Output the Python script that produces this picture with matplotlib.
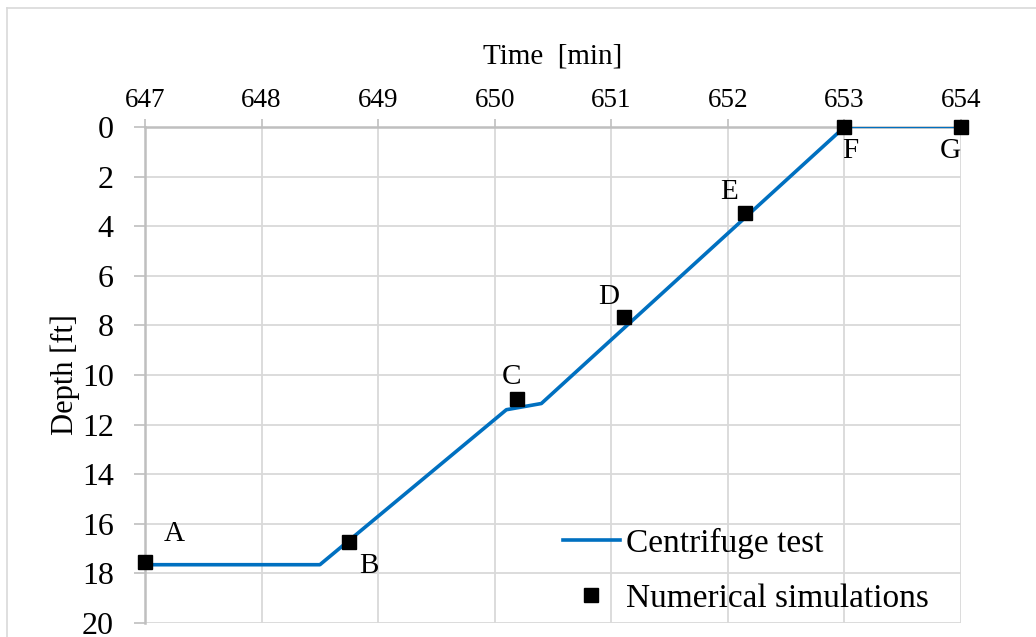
import matplotlib
matplotlib.use("Agg")
import matplotlib.pyplot as plt
from matplotlib.lines import Line2D

plt.rcParams['font.family'] = ['Liberation Serif', 'DejaVu Serif']

# Centrifuge test (line)
test_time = [647.0, 648.5, 650.1, 650.4, 653.0, 654.0]
test_depth = [17.65, 17.65, 11.4, 11.15, 0.0, 0.0]

# Numerical simulations (markers)
sim_time = [647.0, 648.75, 650.19, 651.11, 652.15, 653.0, 654.0]
sim_depth = [17.55, 16.75, 10.97, 7.68, 3.45, 0.0, 0.0]
sim_labels = ['A', 'B', 'C', 'D', 'E', 'F', 'G']

x_ticks = [647, 648, 649, 650, 651, 652, 653, 654]
y_ticks = [0, 2, 4, 6, 8, 10, 12, 14, 16, 18, 20]

label_offsets = [(21, 20), (14, -17), (-4, 16), (-11, 15), (-12, 15), (4, -17), (-8, -17)]

fig = plt.figure(figsize=(10.36, 6.37), dpi=100)
ax = fig.add_axes([0.14, 0.022, 0.7876, 0.7786])

blue = '#0070C0'
ax.plot(test_time[:5], test_depth[:5], color=blue, lw=2.6, solid_capstyle='butt', zorder=3)
ax.plot(test_time[4:], test_depth[4:], color=blue, lw=1.6, zorder=3)
ax.plot(sim_time, sim_depth, ls='none', marker='s', ms=10, color='black', zorder=4, clip_on=False)

for t, d, lab, off in zip(sim_time, sim_depth, sim_labels, label_offsets):
    ax.annotate(lab, (t, d), xytext=off, textcoords='offset points',
                ha='center', va='center', fontsize=21, zorder=5)

ax.set_xlim(647, 654)
ax.set_ylim(20, 0)
ax.xaxis.tick_top()
ax.xaxis.set_label_position('top')
ax.set_xticks(x_ticks)
ax.set_yticks(y_ticks)
ax.tick_params(axis='x', labelsize=19.5, length=6, color='#bfbfbf', width=1.2, pad=4)
ax.tick_params(axis='y', labelsize=23, length=8, color='#bfbfbf', width=1.2, pad=14.5)
ax.set_xlabel('Time  [min]', fontsize=21, labelpad=18)
ax.set_ylabel('Depth [ft]', fontsize=22, labelpad=1.5)

ax.grid(True, color='#d9d9d9', lw=1.3)
ax.set_axisbelow(True)
for s in ['right', 'bottom']:
    ax.spines[s].set_visible(False)
for s in ['top', 'left']:
    ax.spines[s].set_color('#bfbfbf')
    ax.spines[s].set_linewidth(1.8)

handles = [Line2D([], [], color=blue, lw=2.6),
           Line2D([], [], ls='none', marker='s', ms=10, color='black')]
leg = fig.legend(handles, ['Centrifuge test', 'Numerical simulations'],
                 loc='upper left', bbox_to_anchor=(0.5435, 0.171), frameon=False,
                 fontsize=24, handlelength=1.7, handletextpad=0.2, labelspacing=0.72,
                 borderaxespad=0, borderpad=0)

# figure border
fig.add_artist(Line2D([0.007, 1.0], [0.988, 0.988], color='#d9d9d9', lw=1.2, transform=fig.transFigure))
fig.add_artist(Line2D([0.007, 0.007], [0.0, 0.988], color='#d9d9d9', lw=1.2, transform=fig.transFigure))

fig.savefig('out.png', dpi=100)
